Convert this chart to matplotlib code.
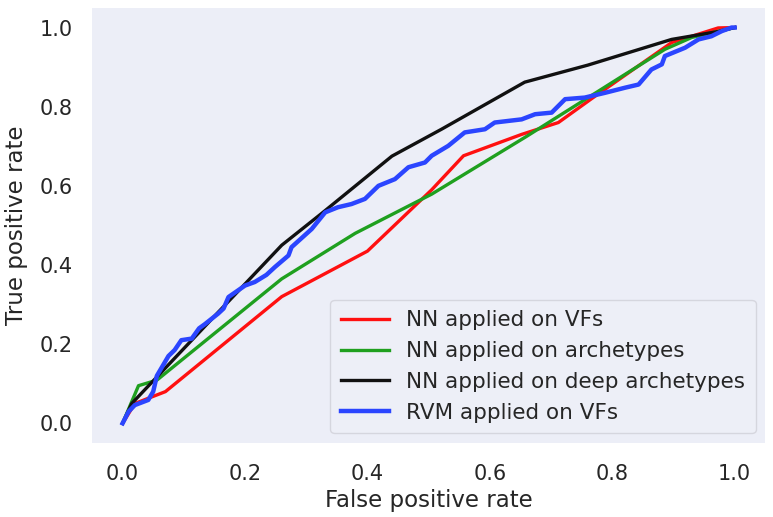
import matplotlib
matplotlib.use("Agg")
import matplotlib.pyplot as plt

# ROC curves
nn_vf_fpr = [0.0, 0.02, 0.07, 0.26, 0.40, 0.505, 0.557, 0.652, 0.712, 0.766, 0.897, 0.973, 1.0]
nn_vf_tpr = [0.0, 0.05, 0.08, 0.32, 0.435, 0.59, 0.676, 0.73, 0.76, 0.82, 0.962, 0.999, 1.0]

nn_arch_fpr = [0.0, 0.026, 0.056, 0.26, 0.38, 0.505, 0.66, 0.886, 0.93, 1.0]
nn_arch_tpr = [0.0, 0.095, 0.109, 0.365, 0.48, 0.579, 0.725, 0.945, 0.975, 1.0]

nn_deep_fpr = [0.0, 0.015, 0.26, 0.325, 0.44, 0.521, 0.657, 0.76, 0.897, 0.973, 1.0]
nn_deep_tpr = [0.0, 0.05, 0.45, 0.53, 0.675, 0.743, 0.862, 0.905, 0.97, 0.99, 1.0]

rvm_fpr = [0.0, 0.01, 0.02, 0.042, 0.05, 0.056, 0.075, 0.085, 0.096, 0.113, 0.125, 0.134,
           0.156, 0.165, 0.173, 0.2, 0.216, 0.235, 0.249, 0.271, 0.276, 0.309, 0.331,
           0.352, 0.374, 0.396, 0.418, 0.445, 0.467, 0.494, 0.505, 0.532, 0.559, 0.592,
           0.608, 0.652, 0.674, 0.701, 0.723, 0.755, 0.788, 0.821, 0.843, 0.864, 0.881,
           0.886, 0.919, 0.941, 0.962, 0.979, 0.995, 1.0]
rvm_tpr = [0.0, 0.03, 0.046, 0.059, 0.08, 0.12, 0.17, 0.185, 0.21, 0.214, 0.24, 0.25,
           0.277, 0.29, 0.319, 0.348, 0.357, 0.375, 0.395, 0.424, 0.445, 0.491, 0.533,
           0.546, 0.554, 0.567, 0.6, 0.617, 0.647, 0.659, 0.676, 0.701, 0.735, 0.743,
           0.76, 0.768, 0.781, 0.785, 0.819, 0.823, 0.835, 0.848, 0.856, 0.894, 0.907,
           0.928, 0.949, 0.97, 0.978, 0.991, 1.0, 1.0]

labels = ["NN applied on VFs", "NN applied on archetypes",
          "NN applied on deep archetypes", "RVM applied on VFs"]

plt.rcParams['font.family'] = 'DejaVu Sans'
fig = plt.figure(figsize=(7.73, 5.17), dpi=100)
ax = fig.add_axes([0.119, 0.143, 0.871, 0.842])
ax.set_facecolor('#eceef7')
for s in ax.spines.values():
    s.set_visible(False)

ax.plot(nn_vf_fpr, nn_vf_tpr, color='#ff1010', lw=2.4, label=labels[0])
ax.plot(nn_arch_fpr, nn_arch_tpr, color='#1fa01f', lw=2.4, label=labels[1])
ax.plot(nn_deep_fpr, nn_deep_tpr, color='#111111', lw=2.4, label=labels[2])
ax.plot(rvm_fpr, rvm_tpr, color='#2b45ff', lw=3.2, label=labels[3])

ax.set_xticks([0.0, 0.2, 0.4, 0.6, 0.8, 1.0])
ax.set_yticks([0.0, 0.2, 0.4, 0.6, 0.8, 1.0])
ax.tick_params(length=0, labelsize=15, labelcolor='#262626')
ax.tick_params(axis='x', pad=15)
ax.tick_params(axis='y', pad=14)
ax.set_xlabel('False positive rate', fontsize=16.5, color='#262626', labelpad=4)
ax.set_ylabel('True positive rate', fontsize=16.5, color='#262626', labelpad=8)

leg = ax.legend(loc='lower right', fontsize=15.5, frameon=True, handlelength=2.2,
                handletextpad=0.8, borderpad=0.5, labelspacing=0.5, borderaxespad=0.45)
leg.get_frame().set_facecolor('#eef0f8')
leg.get_frame().set_edgecolor('#d0d0d8')
for t in leg.get_texts():
    t.set_color('#262626')

fig.savefig('out.png', dpi=100)
